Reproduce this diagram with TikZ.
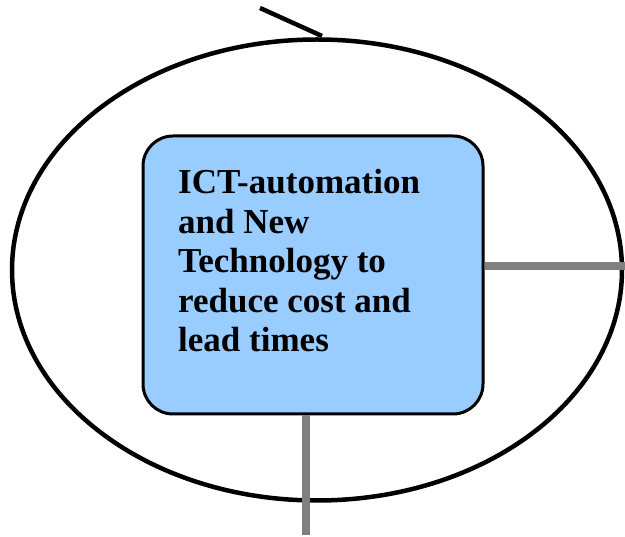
\documentclass[tikz,border=0pt]{standalone}
\usepackage{fontspec}
\setmainfont{Liberation Serif}
\usetikzlibrary{shapes.geometric}

\definecolor{boxblue}{HTML}{99CCFF}
\definecolor{linkgray}{HTML}{808080}

\tikzset{
  cycle/.style={draw=black, line width=4.5pt, ellipse, inner sep=0pt,
    minimum width=610pt, minimum height=461pt},
  goalbox/.style={draw=black, line width=3pt, fill=boxblue,
    rounded corners=30pt, inner sep=0pt,
    minimum width=340pt, minimum height=278pt},
  goaltext/.style={inner sep=0pt, align=left, anchor=base west,
    font=\fontsize{35}{39.5}\selectfont\bfseries},
  link/.style={draw=linkgray, line width=8pt},
}

\begin{document}
\begin{tikzpicture}[x=1pt, y=-1pt]
\useasboundingbox (0,0) rectangle (625,537);

\node[cycle] (loop) at (317,270) {};
\draw[line width=4.5pt] (260,8) coordinate (tick) -- (322,36) coordinate (tickend);

\node[goalbox] (goal) at (313,275) {};
% base of the last line
\node[goaltext] (goallabel) at (178,352)
  {ICT-automation\\and New\\Technology to\\reduce cost and\\lead times};

% outgoing links
\coordinate (right) at (625,266);
\coordinate (down) at (306,535);
\draw[link] (goal.east |- right) -- (right);
\draw[link] (goal.south -| down) -- (down);
\end{tikzpicture}
\end{document}
